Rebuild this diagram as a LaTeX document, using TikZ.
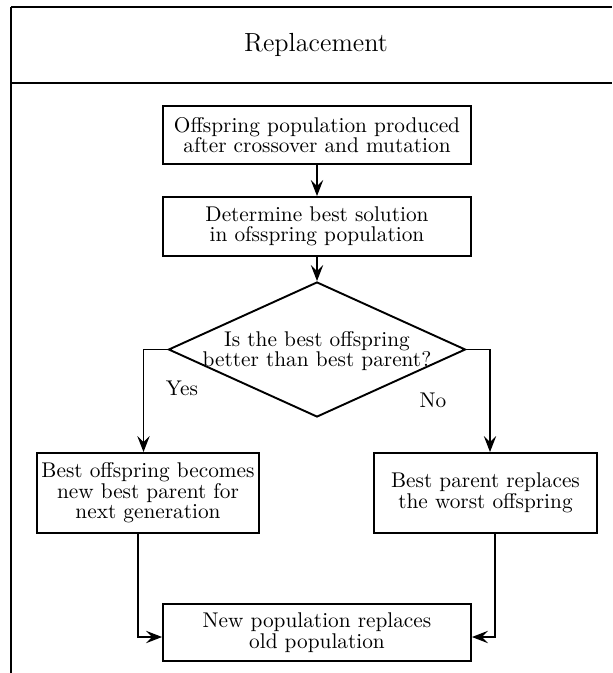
\documentclass[tikz,border=0pt]{standalone}
\usetikzlibrary{shapes.geometric,arrows.meta}
\def\pxs{0.4695}
\begin{document}
\begin{tikzpicture}[
  x={(\pxs pt,0)}, y={(0,-\pxs pt)},
  txt/.style={font=\fontsize{10}{9.6}\selectfont, align=center},
  box/.style={txt, draw, line width=0.9pt, inner sep=2pt,
    minimum width={#1*\pxs pt}},
  conn/.style={line width=0.55pt, -{Stealth[length=7.5pt,width=5.8pt,inset=2.8pt]}},
  frame/.style={line width=1.15pt},
]
\useasboundingbox (0,0) rectangle (612,673);

% swimlane frame and header
\draw[frame] (11,7) -- (612,7);
\draw[frame] (11,83) -- (612,83);
\draw[frame] (11,7) -- (11,673);
\node[font=\fontsize{12.3}{14}\selectfont] (title) at (316,45) {Replacement};

% process boxes
\node[box=308, minimum height={58*\pxs pt}] (b1) at (317,135)
  {Offspring population produced\\after crossover and mutation};
\node[box=308, minimum height={59*\pxs pt}] (b2) at (317,226.5)
  {Determine best solution\\in ofsspring population};
\node[draw, diamond, line width=0.9pt, inner sep=0pt,
  minimum width={297*\pxs pt}, minimum height={135*\pxs pt}] (d) at (317,349.5) {};
\node[txt] (dq) at (317,351) {Is the best offspring\\better than best parent?};
\node[box=222, minimum height={80*\pxs pt}] (b3) at (148,493)
  {Best offspring becomes\\new best parent for\\next generation};
\node[box=223, minimum height={80*\pxs pt}] (b4) at (485.5,493)
  {Best parent replaces\\the worst offspring};
\node[box=308, minimum height={57*\pxs pt}] (b5) at (317,632.5)
  {New population replaces\\old population};

% branch labels
\node[txt] (yes) at (182,388) {Yes};
\node[txt] (no) at (433,400) {No};

% connectors
\draw[conn] (b1.south) -- (b2.north);
\draw[conn] (b2.south) -- (d.north);
\draw[conn] (d.west) -| ([xshift={-4.5*\pxs pt}]b3.north);
\draw[conn] (d.east) -| ([xshift={4.5*\pxs pt}]b4.north);
\draw[conn] ([xshift={-10*\pxs pt}]b3.south) |- ([yshift={-4.5*\pxs pt}]b5.west);
\draw[conn] ([xshift={9.5*\pxs pt}]b4.south) |- ([yshift={-4.5*\pxs pt}]b5.east);
\end{tikzpicture}
\end{document}
